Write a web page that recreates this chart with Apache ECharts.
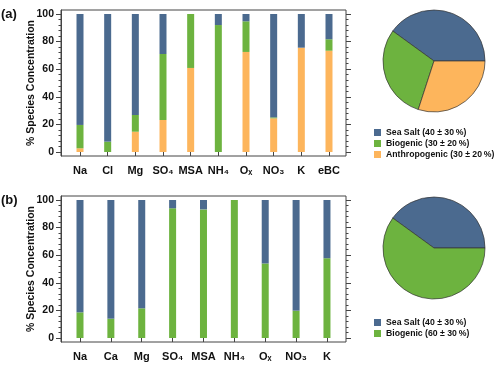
<!DOCTYPE html>
<html>
<head>
<meta charset="utf-8">
<script src="https://cdn.jsdelivr.net/npm/echarts@6/dist/echarts.min.js"></script>
<style>
  html, body { margin: 0; padding: 0; background: #fff; }
  #chart { width: 500px; height: 366px; }
</style>
</head>
<body>
<div id="chart"></div>
<script>
// panel (a)
const categoriesA = ['Na', 'Cl', 'Mg', 'SO\u2084', 'MSA', 'NH\u2084', 'O\u2093', 'NO\u2083', 'K', 'eBC'];
const anthroA   = [2.7, 0, 14.7, 23.2, 60.9, 0, 72.5, 24.4, 75.6, 73.4];
const biogenicA = [16.9, 7.5, 12.1, 47.8, 39.1, 92, 22.2, 0.7, 0, 8.3];
const seaSaltA  = [80.4, 92.5, 73.2, 29, 0, 8, 5.3, 74.9, 24.4, 18.3];
const pieNamesA  = ['Sea Salt (40 \u00b1 30\u2009%)', 'Biogenic (30 \u00b1 20\u2009%)', 'Anthropogenic (30 \u00b1 20\u2009%)'];
const pieValuesA = [40, 30, 30];

// panel (b)
const categoriesB = ['Na', 'Ca', 'Mg', 'SO\u2084', 'MSA', 'NH\u2084', 'O\u2093', 'NO\u2083', 'K'];
const biogenicB = [18.6, 14, 21.5, 94, 93.2, 100, 54, 19.8, 57.8];
const seaSaltB  = [81.4, 86, 78.5, 6, 6.8, 0, 46, 80.2, 42.2];
const pieNamesB  = ['Sea Salt (40 \u00b1 30\u2009%)', 'Biogenic (60 \u00b1 30\u2009%)'];
const pieValuesB = [40, 60];

const majorTicks = [0, 20, 40, 60, 80, 100];
const minorTicks = [];
for (let v = 0; v <= 100; v += 4) minorTicks.push(v);

const BLUE = '#4b6a8f', GREEN = '#6db33f', ORANGE = '#fdb55c';
const FONT = 'Liberation Sans';
const AXIS_COLOR = '#444';

const chart = echarts.init(document.getElementById('chart'), null, { renderer: 'canvas' });

// grids 0,1 = frames; grids 2,3 = bar areas (narrower so the bars sit inside the frame)
function frameAxes(gridIndex) {
  return {
    x: { type: 'value', gridIndex, show: false, min: 0, max: 1 },
    y: { type: 'value', gridIndex, show: false, min: 0, max: 1 }
  };
}

function xAxisFor(gridIndex, cats) {
  return {
    type: 'category', gridIndex, data: cats,
    axisLine: { show: false },
    axisTick: { show: true, alignWithLabel: true, interval: 0, length: 4, lineStyle: { color: AXIS_COLOR } },
    axisLabel: { interval: 0, margin: 9, fontFamily: FONT, fontWeight: 'bold', fontSize: 11, color: '#111' }
  };
}

function yAxesFor(gridIndex, min, max, offL, offR) {
  const base = { type: 'value', gridIndex, min, max, splitLine: { show: false } };
  return [
    Object.assign({}, base, {
      position: 'left', offset: offL,
      name: '% Species Concentration', nameLocation: 'middle', nameGap: 24, nameMoveOverlap: false,
      nameTextStyle: { fontFamily: FONT, fontWeight: 'bold', fontSize: 10.5, color: '#111' },
      axisLine: { show: true, lineStyle: { color: AXIS_COLOR } },
      axisTick: { show: true, customValues: majorTicks, length: 5, lineStyle: { color: AXIS_COLOR } },
      axisLabel: { customValues: majorTicks, margin: 7, fontFamily: FONT, fontWeight: 'bold', fontSize: 10.5, color: '#111' }
    }),
    Object.assign({}, base, {
      position: 'left', offset: offL,
      axisLine: { show: false },
      axisTick: { show: true, customValues: minorTicks, length: 2.5, lineStyle: { color: AXIS_COLOR } },
      axisLabel: { show: false }
    }),
    Object.assign({}, base, {
      position: 'right', offset: offR,
      axisLine: { show: false },
      axisTick: { show: true, customValues: majorTicks, length: 5, lineStyle: { color: AXIS_COLOR } },
      axisLabel: { show: false }
    }),
    Object.assign({}, base, {
      position: 'right', offset: offR,
      axisLine: { show: false },
      axisTick: { show: true, customValues: minorTicks, length: 2.5, lineStyle: { color: AXIS_COLOR } },
      axisLabel: { show: false }
    })
  ];
}

function barSeries(name, data, color, xIdx, yIdx, stack) {
  return {
    type: 'bar', name, stack, data,
    xAxisIndex: xIdx, yAxisIndex: yIdx,
    barWidth: 7,
    itemStyle: { color },
    silent: true
  };
}

const legendText = { fontFamily: FONT, fontWeight: 'bold', fontSize: 8.7, color: '#111', lineHeight: 11 };
const legendBase = {
  orient: 'vertical', icon: 'rect', itemWidth: 7, itemHeight: 7, itemGap: 0,
  textStyle: legendText, selectedMode: false,
  itemStyle: { borderWidth: 0 }
};

const fa = frameAxes(0), fb = frameAxes(1);

const option = {
  animation: false,
  backgroundColor: '#fff',
  grid: [
    { left: 61, right: 154, top: 10, bottom: 210, show: true, borderColor: AXIS_COLOR, borderWidth: 1 },
    { left: 61, right: 154, top: 196, bottom: 24, show: true, borderColor: AXIS_COLOR, borderWidth: 1 },
    { left: 66.17, right: 157.17, top: 10, bottom: 210 },
    { left: 64.56, right: 157.6, top: 196, bottom: 24 }
  ],
  xAxis: [fa.x, fb.x, xAxisFor(2, categoriesA), xAxisFor(3, categoriesB)],
  yAxis: [fa.y, fb.y]
    .concat(yAxesFor(2, -2.9, 102.9, 5.17, 3.17))
    .concat(yAxesFor(3, -2.9, 102.9, 3.56, 3.6)),
  legend: [
    Object.assign({ data: pieNamesA, left: 369, top: 122 }, legendBase),
    Object.assign({ data: pieNamesB, left: 369, top: 312 }, legendBase)
  ],
  graphic: [
    { type: 'text', left: 1, top: 8, style: { text: '(a)', font: 'bold 13px "Liberation Sans"', fill: '#111' } },
    { type: 'text', left: 1, top: 194, style: { text: '(b)', font: 'bold 13px "Liberation Sans"', fill: '#111' } }
  ],
  series: [
    barSeries('Anthropogenic', anthroA, ORANGE, 2, 2, 'a'),
    barSeries('Biogenic', biogenicA, GREEN, 2, 2, 'a'),
    barSeries('Sea Salt', seaSaltA, BLUE, 2, 2, 'a'),
    barSeries('Biogenic', biogenicB, GREEN, 3, 6, 'b'),
    barSeries('Sea Salt', seaSaltB, BLUE, 3, 6, 'b'),
    {
      type: 'pie', center: [434, 61], radius: 51,
      startAngle: 0, clockwise: false, silent: true,
      label: { show: false }, labelLine: { show: false },
      itemStyle: { borderColor: '#333', borderWidth: 0.7 },
      data: pieNamesA.map((n, i) => ({ name: n, value: pieValuesA[i], itemStyle: { color: [BLUE, GREEN, ORANGE][i] } }))
    },
    {
      type: 'pie', center: [434, 248], radius: 51,
      startAngle: 0, clockwise: false, silent: true,
      label: { show: false }, labelLine: { show: false },
      itemStyle: { borderColor: '#333', borderWidth: 0.7 },
      data: pieNamesB.map((n, i) => ({ name: n, value: pieValuesB[i], itemStyle: { color: [BLUE, GREEN][i] } }))
    }
  ]
};

chart.setOption(option);
</script>
</body>
</html>
